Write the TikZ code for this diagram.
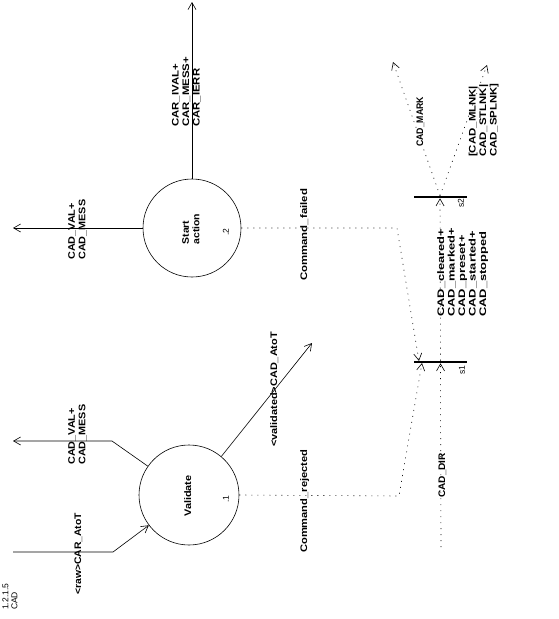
\documentclass[tikz,border=0pt]{standalone}
\usepackage{fontspec}
\setmainfont{Liberation Sans}
\usetikzlibrary{arrows.meta}
\newcommand{\wt}[2]{\scalebox{#1}[1]{\begin{tabular}{@{}l@{}}#2\end{tabular}}}
\begin{document}
\begin{tikzpicture}[x=1pt,y=-1pt,
  lbl/.style={rotate=90,font=\bfseries\fontsize{9.5}{10.5}\selectfont,align=left,inner sep=0pt},
  thin/.style={rotate=90,font=\fontsize{8.5}{9}\selectfont,align=left,inner sep=0pt},
  proc/.style={circle,draw,line width=0.6pt,inner sep=0pt},
  bar/.style={fill=black,minimum width=53pt,minimum height=2.2pt,inner sep=0pt},
  flow/.style={line width=0.6pt,-{Straight Barb[length=7pt,width=8pt]}},
  ctl/.style={line width=0.6pt,dash pattern=on 1pt off 5pt,-{Straight Barb[length=7pt,width=8pt]}},
]
\useasboundingbox (0,0) rectangle (558,619);
% processes
\node[proc,minimum size=100pt] (validate) at (189,495) {};
\node[proc,minimum size=98pt] (start) at (192,228) {};
\node[lbl] (validatetxt) at (189,496) {\wt{1.15}{Validate}};
\node[lbl] (starttxt) at (192,229) {\wt{1.1}{Start\\action}};
\node[thin] (n1) at (226,499) {.1};
\node[thin] (n2) at (226,232) {.2};
% bars
\node[bar] (s1) at (440.5,362) {};
\node[bar] (s2) at (440,197) {};
\node[thin] (s1txt) at (462,370) {s1};
\node[thin] (s2txt) at (461,203) {s2};
% free ends
\coordinate (rawin) at (13,552);
\coordinate (rawbend) at (113,552);
\coordinate (valout) at (13,441);
\coordinate (valbend) at (112,441);
\coordinate (stout) at (13,228);
\coordinate (carout) at (192,2);
\coordinate (vdout) at (312,343);
\coordinate (rejbend) at (399,496);
\coordinate (rejend) at (422,363);
\coordinate (failbend) at (397,228);
\coordinate (failend) at (419,361);
\coordinate (dirsrc) at (441,547);
\coordinate (markout) at (393,62);
\coordinate (lnkout) at (487,65);
% data flows
\draw[flow] (rawin) -- (rawbend) -- (validate.217);
\draw[flow] (validate.145) -- (valbend) -- (valout);
\draw[flow] (validate.50) -- (vdout);
\draw[flow] (start.180) -- (stout);
\draw[flow] (start.90) -- (carout);
% control flows
\draw[ctl] (validate.0) -- (rejbend) -- (rejend);
\draw[ctl] (start.0) -- (failbend) -- (failend);
\draw[ctl] (dirsrc) -- (s1.south);
\draw[ctl] (s1.north) -- (s2.south);
\draw[ctl] (s2.north) -- (markout);
\draw[ctl] (s2.north) -- (lnkout);
% labels
\node[thin,anchor=west] (code) at (10,610) {1.2.1.5\\CAD};
\node[lbl,anchor=west] (rawtxt) at (79,595) {\wt{1.09}{<raw>CAR\_AtoT}};
\node[lbl,anchor=west] (valouttxt) at (78,465) {\wt{1.14}{CAD\_VAL+\\CAD\_MESS}};
\node[lbl,anchor=west] (stouttxt) at (78,260) {\wt{1.14}{CAD\_VAL+\\CAD\_MESS}};
\node[lbl,anchor=west] (cartxt) at (187,127) {\wt{1.2}{CAR\_IVAL+\\CAR\_MESS+\\CAR\_IERR}};
\node[lbl,anchor=west] (vdtxt) at (275,447) {\wt{1.15}{<validated>CAD\_AtoT}};
\node[lbl,anchor=west] (rejtxt) at (305,553) {\wt{1.17}{Command\_rejected}};
\node[lbl,anchor=west] (failtxt) at (305,281) {\wt{1.2}{Command\_failed}};
\node[lbl,anchor=west] (dirtxt) at (443,498) {\wt{1.06}{CAD\_DIR}};
\node[lbl,anchor=west] (sttxt) at (463,317) {\wt{1.36}{CAD\_cleared+\\CAD\_marked+\\CAD\_preset+\\CAD\_started+\\CAD\_stopped}};
\node[lbl,anchor=west] (marktxt) at (421,147) {\wt{0.92}{CAD\_MARK}};
\node[lbl,anchor=west] (lnktxt) at (484,157) {\wt{1.2}{[CAD\_MLNK|\\CAD\_STLNK|\\CAD\_SPLNK]}};
\end{tikzpicture}
\end{document}
